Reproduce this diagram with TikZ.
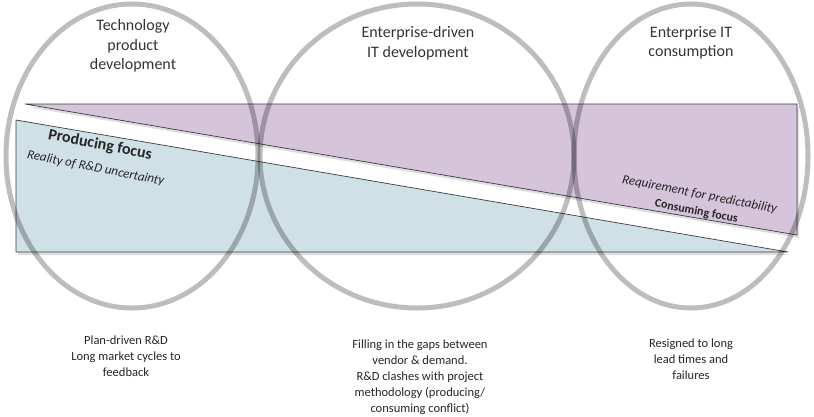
\documentclass[tikz,border=0pt]{standalone}
\usepackage{fontspec}
\setmainfont{Carlito}
\definecolor{lilac}{RGB}{214,196,219}
\definecolor{iceblue}{RGB}{208,224,231}
\definecolor{rimgray}{RGB}{60,60,66}
\begin{document}
\begin{tikzpicture}[
    x=1pt, y=-1pt,
    wedge/.style={draw=rimgray, line width=0.7pt, line join=miter},
    shade/.style={fill=black!13},
    ring/.style={draw=black, draw opacity=0.26, line width=5pt},
    title/.style={align=center, text=black!80, font=\fontsize{16}{19.5}\selectfont},
    note/.style={align=center, text=black!85, font=\fontsize{12.5}{16}\selectfont},
    tilted/.style={rotate=-11, inner sep=0pt, align=center, text=black!85}
]
    \useasboundingbox (0,0) rectangle (814,416);

    % shadows under the two wedges
    \fill[shade] (18,123) -- (790,255) -- (18,255) -- cycle;
    \fill[shade] (27,107) -- (799,107) -- (799,238) -- cycle;

    % consuming wedge and producing wedge
    \filldraw[wedge, fill=lilac] (25,104) -- (797,104) -- (797,235) -- cycle;
    \filldraw[wedge, fill=iceblue] (16,120) -- (788,252) -- (16,252) -- cycle;

    % the three areas
    \draw[ring] (132,156) ellipse [x radius=126, y radius=152];
    \draw[ring] (417,156) ellipse [x radius=157, y radius=152];
    \draw[ring] (691,156) ellipse [x radius=117, y radius=152];

    \node[title] (titlea) at (133,46) {Technology\\product\\development};
    \node[title] (titleb) at (418,43) {Enterprise-driven\\IT development};
    \node[title] (titlec) at (691,43) {Enterprise IT\\consumption};

    \node[tilted, font=\fontsize{13}{23}\selectfont] (prodlabel) at (98,156) {%
        {\fontsize{16}{23}\selectfont\bfseries Producing focus}\\
        {\itshape Reality of R\&D uncertainty}};
    \node[tilted, font=\fontsize{13}{17}\selectfont] (conslabel) at (698,203) {%
        {\itshape Requirement for predictability}\\
        {\fontsize{12}{17}\selectfont\bfseries Consuming focus}};

    \node[note] (notea) at (126,356) {Plan-driven R\&D\\Long market cycles to\\feedback};
    \node[note] (noteb) at (420,377) {Filling in the gaps between\\vendor \& demand.\\R\&D clashes with project\\methodology (producing/\\consuming conflict)};
    \node[note] (notec) at (691,359) {Resigned to long\\lead times and\\failures};
\end{tikzpicture}
\end{document}
